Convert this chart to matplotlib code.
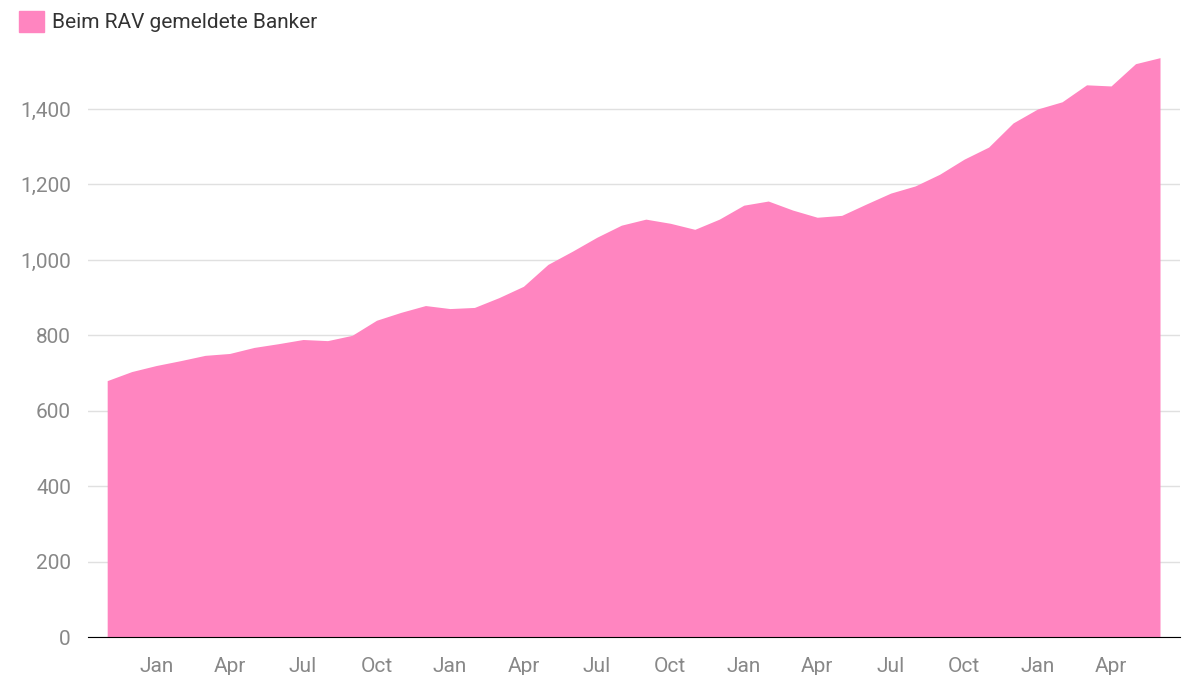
import matplotlib
matplotlib.use("Agg")
import matplotlib.pyplot as plt
from matplotlib.patches import Patch

values = [680, 704, 720, 733, 747, 752, 768, 778, 789, 786, 800, 840, 861, 879, 871, 874,
          900, 930, 988, 1023, 1060, 1092, 1108, 1097, 1081, 1108, 1145, 1156, 1132, 1113,
          1118, 1148, 1177, 1196, 1227, 1267, 1299, 1363, 1400, 1419, 1464, 1461, 1520, 1536]
# first value is November; ticks every quarter starting at January (index 2)
tick_idx = list(range(2, len(values), 3))
tick_labels = ["Jan", "Apr", "Jul", "Oct"] * 4
tick_labels = tick_labels[:len(tick_idx)]
yticks = [0, 200, 400, 600, 800, 1000, 1200, 1400]
color = "#FF85C0"

plt.rcParams['font.family'] = ['Roboto', 'DejaVu Sans']
fig = plt.figure(figsize=(12, 6.75), dpi=100)
ax = fig.add_axes([0.073, 0.056, 0.91, 0.872])
x = list(range(len(values)))
ax.fill_between(x, values, 0, color=color, linewidth=0, zorder=2)
ax.set_xlim(-0.8, len(values) - 1 + 0.8)
ax.set_ylim(0, 1560)
ax.set_yticks(yticks)
ax.set_yticklabels([f"{v:,}" for v in yticks])
ax.set_xticks(tick_idx)
ax.set_xticklabels(tick_labels)
ax.grid(axis='y', color='#e0e0e0', linewidth=1, zorder=1)
for s in ['top', 'right', 'left']:
    ax.spines[s].set_visible(False)
ax.spines['bottom'].set_color('black')
ax.spines['bottom'].set_zorder(3)
ax.tick_params(axis='both', length=0, labelsize=15, labelcolor='#888888', pad=14)
ax.tick_params(axis='y', pad=12)
fig.legend(handles=[Patch(color=color)], labels=["Beim RAV gemeldete Banker"],
           loc='upper left', bbox_to_anchor=(0.0, 1.012), frameon=False, fontsize=15,
           handlelength=1.2, handleheight=1.2, handletextpad=0.4, labelcolor='#333333')
fig.savefig("out.png", dpi=100)
